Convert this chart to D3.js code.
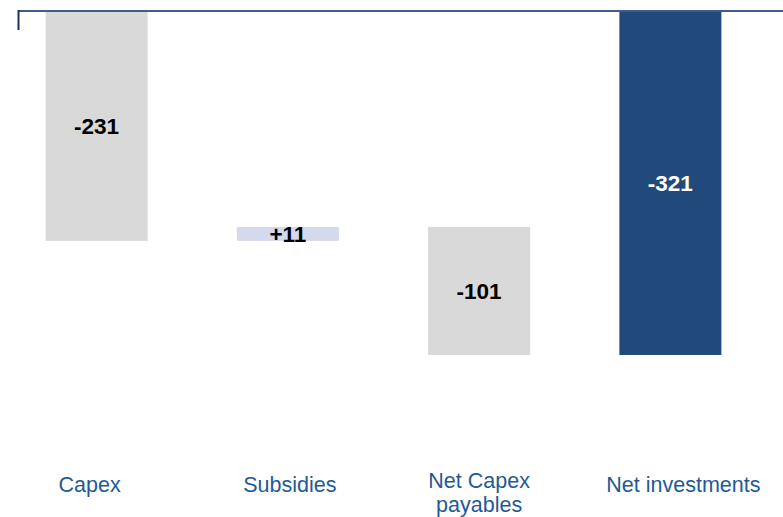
<!DOCTYPE html>
<html>
<head>
<meta charset="utf-8">
<script src="https://cdn.jsdelivr.net/npm/d3@7/dist/d3.min.js"></script>
<style>
  html, body { margin: 0; padding: 0; background: #fff; }
  svg { display: block; font-family: "Liberation Sans", Arial, sans-serif; }
</style>
</head>
<body>
<div id="chart"></div>
<script>
// waterfall steps
const categories = ['Capex', 'Subsidies', 'Net Capex\npayables', 'Net investments'];
const values = [-231, 11, -101, -321];
const isTotal = [false, false, false, true];
const valueLabels = ['-231', '+11', '-101', '-321'];

const width = 783;
const height = 517;
const plotTop = 11;
// small horizontal nudges of the category text boxes, as in the original slide
const labelNudge = [-7, 2, 0, 13];

const svg = d3.select('#chart').append('svg')
    .attr('width', width)
    .attr('height', height);

// running totals
let running = 0;
const steps = categories.map((c, i) => {
    let start, end;
    if (isTotal[i]) {
        start = 0;
        end = values[i];
    } else {
        start = running;
        end = running + values[i];
    }
    running = isTotal[i] ? values[i] : end;
    return {cat: c, i, start, end, label: valueLabels[i], total: isTotal[i], up: values[i] > 0};
});

const x = d3.scaleBand()
    .domain(categories)
    .range([1, 766])
    .paddingInner(0.4667)
    .paddingOuter(0.2333);

// zero sits above the visible area, the bars get cut at the top line
const y = d3.scaleLinear()
    .domain([0, -321])
    .range([-52, 355]);

svg.append('defs').append('clipPath')
    .attr('id', 'plot')
    .append('rect')
    .attr('x', 0).attr('y', plotTop)
    .attr('width', width).attr('height', height - plotTop);

const colour = d => d.total ? '#214a7b' : (d.up ? '#d5d9ee' : '#d9d9d9');

const bars = svg.append('g').attr('clip-path', 'url(#plot)');
bars.selectAll('rect')
    .data(steps)
    .join('rect')
    .attr('x', d => x(d.cat))
    .attr('width', x.bandwidth())
    .attr('y', d => y(Math.max(d.start, d.end)))
    .attr('height', d => Math.abs(y(d.end) - y(d.start)))
    .attr('fill', colour);

// value labels, centred in the visible part of each bar
svg.append('g').selectAll('text')
    .data(steps)
    .join('text')
    .attr('x', d => x(d.cat) + x.bandwidth() / 2)
    .attr('y', d => {
        const top = Math.max(plotTop, y(Math.max(d.start, d.end)));
        const bottom = y(Math.min(d.start, d.end));
        return (top + bottom) / 2 + 8;
    })
    .attr('text-anchor', 'middle')
    .attr('font-size', 22.5)
    .attr('font-weight', 'bold')
    .attr('fill', d => d.total ? '#fff' : '#000')
    .text(d => d.label);

// top border line and the small left tick
svg.append('line')
    .attr('x1', 18).attr('x2', width)
    .attr('y1', plotTop).attr('y2', plotTop)
    .attr('stroke', '#3f5d88')
    .attr('stroke-width', 2);
svg.append('line')
    .attr('x1', 18.5).attr('x2', 18.5)
    .attr('y1', plotTop - 1).attr('y2', 30)
    .attr('stroke', '#17375e')
    .attr('stroke-width', 2);

// category labels
const cx = d => x(d.cat) + x.bandwidth() / 2 + labelNudge[d.i];
const catLabels = svg.append('g').selectAll('text')
    .data(steps)
    .join('text')
    .attr('x', cx)
    .attr('y', d => d.cat.includes('\n') ? 488 : 492)
    .attr('text-anchor', 'middle')
    .attr('font-size', 21.5)
    .attr('fill', '#1f5a96');

catLabels.selectAll('tspan')
    .data(d => d.cat.split('\n').map(t => ({t, x: cx(d)})))
    .join('tspan')
    .attr('x', d => d.x)
    .attr('dy', (d, i) => i === 0 ? 0 : 24)
    .text(d => d.t);
</script>
</body>
</html>
